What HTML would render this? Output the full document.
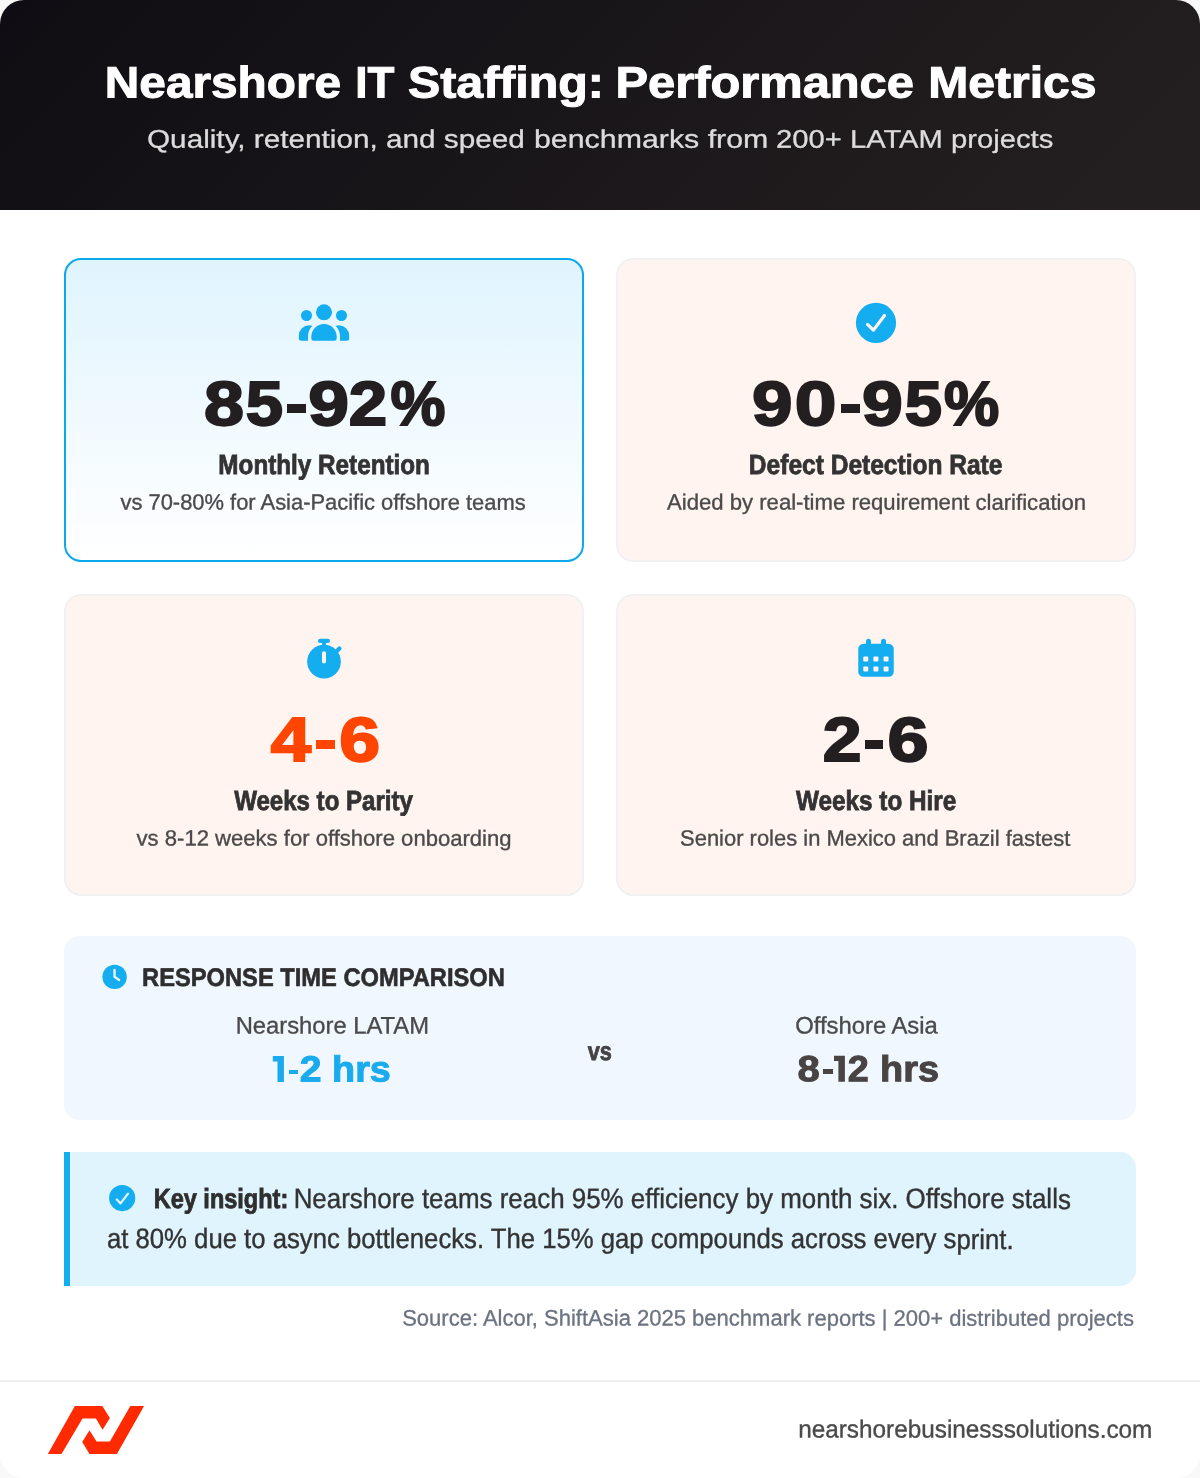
<!DOCTYPE html>
<html lang="en">
<head>
<meta charset="utf-8">
<title>Nearshore IT Staffing: Performance Metrics</title>
<style>
*{box-sizing:border-box;margin:0;padding:0}
html,body{width:1200px;height:1478px;background:#f9f9f9;overflow:hidden}
body{font-family:"Liberation Sans",sans-serif;position:relative}
.page{position:absolute;left:0;top:0;width:1200px;height:1478px;background:#ffffff;border-radius:24px;overflow:hidden}
.hdr{position:absolute;left:0;top:0;width:1200px;height:210px;background:linear-gradient(135deg,#0f0d13 0%,#231f20 92%)}
.t{position:absolute;white-space:nowrap;line-height:1;transform-origin:0 0}
.card{position:absolute;width:520px;border-radius:17px;background:#fff4f0;border:2px solid #f1f1f3}
.card.hl{background:linear-gradient(180deg,#e0f4fe 0%,#ffffff 100%);border-color:#0aa8ed}
.resp{position:absolute;left:64px;top:936px;width:1072px;height:184px;border-radius:16px;background:#f0f7ff}
.ins{position:absolute;left:64px;top:1152px;width:1072px;height:134px;border-radius:0 16px 16px 0;background:#e0f4fe;border-left:6px solid #14aef0}
.ftl{position:absolute;left:0;top:1380px;width:1200px;height:2px;background:#efeff1}
.tl{position:absolute;left:0;top:0;width:1200px;height:1478px;will-change:transform}
.hy{position:absolute}
svg{position:absolute;overflow:visible}
</style>
</head>
<body>
<div class="page">
<div class="hdr"></div>

<div class="card hl" style="left:64px;top:258px;height:304px"></div>
<div class="card" style="left:616px;top:258px;height:304px"></div>
<div class="card" style="left:64px;top:594px;height:302px"></div>
<div class="card" style="left:616px;top:594px;height:302px"></div>
<div class="resp"></div>
<div class="ins"></div>
<div class="ftl"></div>

<div class="tl">
<div class="t" style="left:104px;top:60px;font-size:44px;color:#ffffff;font-weight:bold;-webkit-text-stroke:1px #ffffff;transform:translate(0.87px,0.44px) rotate(0.03deg) scaleX(1.0851);">Nearshore</div>
<div class="t" style="left:355px;top:60px;font-size:44px;color:#ffffff;font-weight:bold;-webkit-text-stroke:1px #ffffff;transform:translate(0.30px,0.49px) rotate(0.03deg) scaleX(0.9994);">IT</div>
<div class="t" style="left:407px;top:60px;font-size:44px;color:#ffffff;font-weight:bold;-webkit-text-stroke:1px #ffffff;transform:translate(0.95px,0.45px) rotate(0.03deg) scaleX(1.0987);">Staffing:</div>
<div class="t" style="left:615px;top:60px;font-size:44px;color:#ffffff;font-weight:bold;-webkit-text-stroke:1px #ffffff;transform:translate(0.54px,0.42px) rotate(0.03deg) scaleX(1.109);">Performance</div>
<div class="t" style="left:928px;top:60px;font-size:44px;color:#ffffff;font-weight:bold;-webkit-text-stroke:1px #ffffff;transform:translate(0.16px,0.46px) rotate(0.03deg) scaleX(1.0931);">Metrics</div>
<div class="t" style="left:147px;top:126px;font-size:25.6px;color:#dcdcdc;-webkit-text-stroke:0.3px #dcdcdc;transform:translate(0.01px,0.65px) rotate(0.03deg) scaleX(1.1611);">Quality, retention, and speed</div>
<div class="t" style="left:533px;top:126px;font-size:25.6px;color:#dcdcdc;-webkit-text-stroke:0.3px #dcdcdc;transform:translate(0.99px,0.69px) rotate(0.03deg) scaleX(1.1856);">benchmarks from</div>
<div class="t" style="left:776px;top:126px;font-size:25.6px;color:#dcdcdc;-webkit-text-stroke:0.3px #dcdcdc;transform:translate(0.03px,0.68px) rotate(0.03deg) scaleX(1.1407);">200+ LATAM projects</div>

<!-- users icon -->
<svg style="left:294px;top:300px" width="60" height="44" viewBox="294 300 60 44">
<circle cx="324" cy="312.300" r="8" fill="#14aef0"/>
<circle cx="306.500" cy="315.500" r="5.500" fill="#14aef0"/>
<circle cx="341.500" cy="315.500" r="5.500" fill="#14aef0"/>
<path d="M298.800 338.200 V335.700 A10.500 10.500 0 0 1 319.800 335.700 V340.700 H301.300 A2.500 2.500 0 0 1 298.800 338.200 Z" fill="#14aef0"/>
<path d="M349.200 338.200 V335.700 A10.500 10.500 0 0 0 328.200 335.700 V340.700 H346.700 A2.500 2.500 0 0 0 349.200 338.200 Z" fill="#14aef0"/>
<path d="M311.300 344 V336.700 A12.700 12.700 0 0 1 336.700 336.700 V344 Z" fill="#e8f7fe" stroke="#e8f7fe" stroke-width="6.600" stroke-linejoin="round"/>
<path d="M311.300 338.200 V336.700 A12.700 12.700 0 0 1 336.700 336.700 V338.200 A2.500 2.500 0 0 1 334.200 340.700 H313.800 A2.500 2.500 0 0 1 311.300 338.200 Z" fill="#14aef0"/>
</svg>

<!-- check circle icon -->
<svg style="left:846px;top:294px" width="60" height="60" viewBox="846 294 60 60">
<circle cx="876" cy="322.900" r="20.100" fill="#14aef0"/>
<path d="M867.500 324.400 L873.400 330.100 L884.500 315.500" fill="none" stroke="#fff4f0" stroke-width="3.200" stroke-linecap="round" stroke-linejoin="round"/>
</svg>

<!-- stopwatch icon -->
<svg style="left:294px;top:628px" width="60" height="60" viewBox="294 628 60 60">
<circle cx="324" cy="661.600" r="16.900" fill="#14aef0"/>
<path d="M320.100 640.900 H327.900" stroke="#14aef0" stroke-width="4.200" stroke-linecap="round" fill="none"/>
<rect x="322.050" y="640.900" width="3.900" height="6" fill="#14aef0"/>
<path d="M335.500 652.500 L339.400 648.600" stroke="#14aef0" stroke-width="4.300" stroke-linecap="round" fill="none"/>
<path d="M324 653.250 V661.500" stroke="#fff4f0" stroke-width="4" stroke-linecap="round" fill="none"/>
</svg>

<!-- calendar icon -->
<svg style="left:846px;top:628px" width="60" height="60" viewBox="846 628 60 60">
<rect x="858.250" y="643.750" width="35.500" height="33" rx="5.300" fill="#14aef0"/>
<path d="M868.500 641.250 V648 M883.500 641.250 V648" stroke="#14aef0" stroke-width="5" stroke-linecap="round" fill="none"/>
<g fill="#fff4f0">
<rect x="863.250" y="656.500" width="5" height="5" rx="1"/><rect x="873.400" y="656.500" width="5" height="5" rx="1"/><rect x="883.550" y="656.500" width="5" height="5" rx="1"/>
<rect x="863.250" y="666.500" width="5" height="5" rx="1"/><rect x="873.400" y="666.500" width="5" height="5" rx="1"/><rect x="883.550" y="666.500" width="5" height="5" rx="1"/>
</g>
</svg>

<div class="t" style="left:204px;top:372px;font-size:62.4px;color:#231f20;font-weight:bold;-webkit-text-stroke:2px #231f20;transform:translate(0.00px,0.89px) rotate(0.03deg) scaleX(1.15);">8</div>
<div class="t" style="left:245px;top:372px;font-size:62.4px;color:#231f20;font-weight:bold;-webkit-text-stroke:2px #231f20;transform:translate(0.80px,0.89px) rotate(0.03deg) scaleX(1.0735);">5</div>
<div class="t" style="left:308px;top:372px;font-size:62.4px;color:#231f20;font-weight:bold;-webkit-text-stroke:2px #231f20;transform:translate(0.23px,0.89px) rotate(0.03deg) scaleX(1.1727);">9</div>
<div class="t" style="left:348px;top:372px;font-size:62.4px;color:#231f20;font-weight:bold;-webkit-text-stroke:2px #231f20;transform:translate(0.89px,0.89px) rotate(0.03deg) scaleX(1.1061);">2</div>
<div class="t" style="left:390px;top:372px;font-size:62.4px;color:#231f20;font-weight:bold;-webkit-text-stroke:2px #231f20;transform:translate(0.60px,0.89px) rotate(0.03deg) scaleX(0.9891);">%</div>
<div class="hy" style="left:286.7px;top:404.0px;width:18.9px;height:8.6px;background:#231f20"></div>
<div class="t" style="left:218px;top:450px;font-size:27.6px;color:#333333;font-weight:bold;-webkit-text-stroke:0.8px #333333;transform:translate(0.37px,0.84px) rotate(0.03deg) scaleX(0.879);">Monthly Retention</div>
<div class="t" style="left:120px;top:491px;font-size:22px;color:#4a4a4a;-webkit-text-stroke:0.35px #4a4a4a;transform:translate(0.47px,0.47px) rotate(0.03deg) scaleX(0.996);">vs 70-80% for Asia-Pacific offshore teams</div>
<div class="t" style="left:752px;top:372px;font-size:62.4px;color:#231f20;font-weight:bold;-webkit-text-stroke:2px #231f20;transform:translate(0.08px,0.89px) rotate(0.03deg) scaleX(1.1652);">9</div>
<div class="t" style="left:794px;top:372px;font-size:62.4px;color:#231f20;font-weight:bold;-webkit-text-stroke:2px #231f20;transform:translate(0.80px,0.89px) rotate(0.03deg) scaleX(1.2);">0</div>
<div class="t" style="left:861px;top:372px;font-size:62.4px;color:#231f20;font-weight:bold;-webkit-text-stroke:2px #231f20;transform:translate(0.92px,0.89px) rotate(0.03deg) scaleX(1.1758);">9</div>
<div class="t" style="left:904px;top:372px;font-size:62.4px;color:#231f20;font-weight:bold;-webkit-text-stroke:2px #231f20;transform:translate(0.75px,0.89px) rotate(0.03deg) scaleX(1.0735);">5</div>
<div class="t" style="left:944px;top:372px;font-size:62.4px;color:#231f20;font-weight:bold;-webkit-text-stroke:2px #231f20;transform:translate(0.00px,0.89px) rotate(0.03deg) scaleX(0.9955);">%</div>
<div class="hy" style="left:840.8px;top:404.0px;width:18.9px;height:8.6px;background:#231f20"></div>
<div class="t" style="left:748px;top:450px;font-size:27.6px;color:#333333;font-weight:bold;-webkit-text-stroke:0.8px #333333;transform:translate(0.87px,0.83px) rotate(0.03deg) scaleX(0.8891);">Defect Detection Rate</div>
<div class="t" style="left:667px;top:491px;font-size:22px;color:#4a4a4a;-webkit-text-stroke:0.35px #4a4a4a;transform:translate(0.08px,0.47px) rotate(0.03deg) scaleX(1.0049);">Aided by real-time requirement clarification</div>
<div class="t" style="left:270px;top:708px;font-size:62.4px;color:#ff4500;font-weight:bold;-webkit-text-stroke:2px #ff4500;transform:translate(0.66px,0.89px) rotate(0.03deg) scaleX(1.1622);">4</div>
<div class="t" style="left:339px;top:708px;font-size:62.4px;color:#ff4500;font-weight:bold;-webkit-text-stroke:2px #ff4500;transform:translate(0.22px,0.89px) rotate(0.03deg) scaleX(1.1758);">6</div>
<div class="hy" style="left:316.3px;top:740.0px;width:18.8px;height:8.6px;background:#ff4500"></div>
<div class="t" style="left:234px;top:786px;font-size:27.6px;color:#333333;font-weight:bold;-webkit-text-stroke:0.8px #333333;transform:translate(0.15px,0.85px) rotate(0.03deg) scaleX(0.8719);">Weeks to Parity</div>
<div class="t" style="left:136px;top:827px;font-size:22px;color:#4a4a4a;-webkit-text-stroke:0.35px #4a4a4a;transform:translate(0.58px,0.48px) rotate(0.03deg) scaleX(1.0031);">vs 8-12 weeks for offshore onboarding</div>
<div class="t" style="left:822px;top:708px;font-size:62.4px;color:#231f20;font-weight:bold;-webkit-text-stroke:2px #231f20;transform:translate(0.78px,0.89px) rotate(0.03deg) scaleX(1.1167);">2</div>
<div class="t" style="left:887px;top:708px;font-size:62.4px;color:#231f20;font-weight:bold;-webkit-text-stroke:2px #231f20;transform:translate(0.52px,0.89px) rotate(0.03deg) scaleX(1.1818);">6</div>
<div class="hy" style="left:864.8px;top:740.0px;width:18.7px;height:8.6px;background:#231f20"></div>
<div class="t" style="left:796px;top:786px;font-size:27.6px;color:#333333;font-weight:bold;-webkit-text-stroke:0.8px #333333;transform:translate(0.05px,0.86px) rotate(0.03deg) scaleX(0.8803);">Weeks to Hire</div>
<div class="t" style="left:680px;top:827px;font-size:22px;color:#4a4a4a;-webkit-text-stroke:0.35px #4a4a4a;transform:translate(0.08px,0.47px) rotate(0.03deg) scaleX(0.9974);">Senior roles in Mexico and Brazil fastest</div>

<svg style="left:100px;top:962px" width="30" height="30" viewBox="100 962 30 30">
<circle cx="114.600" cy="976.900" r="12.200" fill="#14aef0"/>
<path d="M114.500 969.900 V976.750 L119.100 979.950" fill="none" stroke="#f0f7ff" stroke-width="2.300" stroke-linecap="round" stroke-linejoin="round"/>
</svg>
<div class="t" style="left:142px;top:964px;font-size:25.3px;color:#2e2e2e;font-weight:bold;-webkit-text-stroke:0.6px #2e2e2e;transform:translate(0.04px,0.91px) rotate(0.03deg) scaleX(0.9365);">RESPONSE TIME COMPARISON</div>
<div class="t" style="left:235px;top:1013px;font-size:23.9px;color:#4a4a4a;-webkit-text-stroke:0.35px #4a4a4a;transform:translate(0.68px,0.53px) rotate(0.03deg) scaleX(0.9951);">Nearshore LATAM</div>
<div class="t" style="left:299px;top:1051px;font-size:36.4px;color:#1aabee;font-weight:bold;-webkit-text-stroke:1px #1aabee;transform:translate(0.71px,0.49px) rotate(0.03deg) scaleX(1.0763);">2</div>
<div class="t" style="left:332px;top:1051px;font-size:36.4px;color:#1aabee;font-weight:bold;-webkit-text-stroke:1px #1aabee;transform:translate(0.14px,0.49px) rotate(0.03deg) scaleX(1.0369);">hrs</div>
<div class="hy" style="left:288.6px;top:1069.6px;width:9.9px;height:4.4px;background:#1aabee"></div>
<svg style="left:270px;top:1054px" width="16" height="30" viewBox="270 1054 16 30"><path d="M272.800 1056 H283.900 V1082 H277.500 V1061.400 H272.800 Z" fill="#1aabee"/></svg>
<div class="t" style="left:587px;top:1039px;font-size:25.8px;color:#444444;font-weight:bold;-webkit-text-stroke:0.8px #444444;transform:translate(0.64px,0.09px) rotate(0.03deg) scaleX(0.8406);">vs</div>
<div class="t" style="left:795px;top:1013px;font-size:23.9px;color:#4a4a4a;-webkit-text-stroke:0.35px #4a4a4a;transform:translate(0.18px,0.54px) rotate(0.03deg) scaleX(0.9975);">Offshore Asia</div>
<div class="t" style="left:797px;top:1051px;font-size:36.4px;color:#474443;font-weight:bold;-webkit-text-stroke:1px #474443;transform:translate(0.45px,0.29px) rotate(0.03deg) scaleX(1.1);">8</div>
<div class="t" style="left:847px;top:1051px;font-size:36.4px;color:#474443;font-weight:bold;-webkit-text-stroke:1px #474443;transform:translate(0.78px,0.29px) rotate(0.03deg) scaleX(1.0368);">2</div>
<div class="t" style="left:880px;top:1051px;font-size:36.4px;color:#474443;font-weight:bold;-webkit-text-stroke:1px #474443;transform:translate(0.14px,0.29px) rotate(0.03deg) scaleX(1.0406);">hrs</div>
<div class="hy" style="left:822.7px;top:1069.4px;width:10.2px;height:4.4px;background:#474443"></div>
<svg style="left:832px;top:1054px" width="16" height="30" viewBox="832 1054 16 30"><path d="M834 1055.800 H844.900 V1081.800 H838.400 V1061.100 H834 Z" fill="#474443"/></svg>

<svg style="left:106px;top:1182px" width="32" height="32" viewBox="106 1182 32 32">
<circle cx="122.200" cy="1198.100" r="13.100" fill="#14aef0"/>
<path d="M116.800 1199.500 L120.500 1203.400 L128 1193.600" fill="none" stroke="#e0f4fe" stroke-width="2.300" stroke-linecap="round" stroke-linejoin="round"/>
</svg>
<div class="t" style="left:153px;top:1185px;font-size:27.6px;color:#2e2e2e;font-weight:bold;-webkit-text-stroke:0.8px #2e2e2e;transform:translate(0.74px,0.07px) rotate(0.03deg) scaleX(0.8517);">Key insight:</div>
<div class="t" style="left:293px;top:1185px;font-size:28.1px;color:#333333;-webkit-text-stroke:0.4px #333333;transform:translate(0.64px,0.10px) rotate(0.03deg) scaleX(0.9229);">Nearshore teams reach 95% efficiency by month six. Offshore stalls</div>
<div class="t" style="left:106px;top:1225px;font-size:28.1px;color:#333333;-webkit-text-stroke:0.4px #333333;transform:translate(0.97px,0.06px) rotate(0.03deg) scaleX(0.9147);">at 80% due to async bottlenecks. The 15% gap compounds across every sprint.</div>
<div class="t" style="left:402px;top:1307px;font-size:22.3px;color:#6b7280;-webkit-text-stroke:0.3px #6b7280;transform:translate(0.16px,0.41px) rotate(0.03deg) scaleX(0.9871);">Source: Alcor, ShiftAsia 2025 benchmark reports | 200+ distributed projects</div>

<svg style="left:40px;top:1400px" width="110" height="60" viewBox="40 1400 110 60">
<path d="M74.900 1406.100 H102.300 L109.900 1418 L102.600 1429.700 L95.900 1418.600 H82.500 L61.500 1453.900 H47.850 Z" fill="#ff2a00"/>
<path d="M130.300 1406.100 H144.100 L116.900 1453.900 H89.500 L82.200 1441.900 L89.500 1430.250 L96.500 1441.600 H109.900 Z" fill="#ff2a00"/>
</svg>
<div class="t" style="left:798px;top:1417px;font-size:24.7px;color:#4a4a4a;-webkit-text-stroke:0.35px #4a4a4a;transform:translate(0.19px,0.48px) rotate(0.03deg) scaleX(0.9851);">nearshorebusinesssolutions.com</div>
</div>
</div>
</body>
</html>
